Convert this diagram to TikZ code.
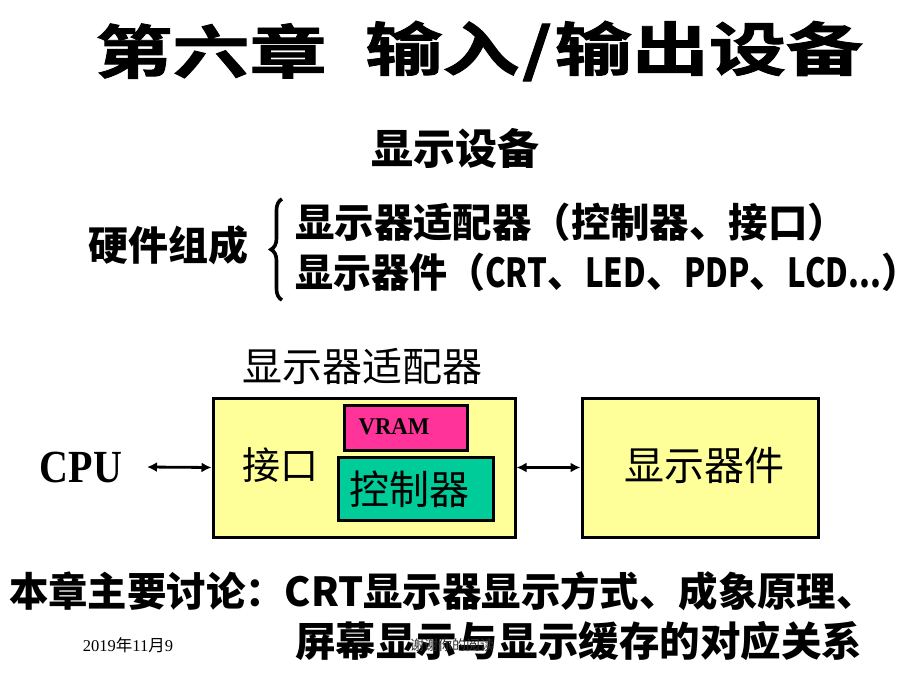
\documentclass[tikz,border=0pt]{standalone}
\usepackage{fontspec}
\setmainfont{Liberation Serif}
\newfontfamily\cjk{Noto Sans CJK SC}
\newfontfamily\cjkheavy{Noto Sans CJK SC}[UprightFont={* Bold},FakeBold=1.5]
\usetikzlibrary{arrows.meta,decorations.pathreplacing}
\definecolor{boxyellow}{RGB}{255,255,153}
\definecolor{boxpink}{RGB}{255,51,153}
\definecolor{boxgreen}{RGB}{0,204,153}
\newcommand{\nar}[1]{\scalebox{0.82}[1]{#1}}
\begin{document}
\begin{tikzpicture}[x=1pt,y=-1pt,
  box/.style={draw=black,line width=3pt,fill=#1,inner sep=0pt},
  heavy/.style={font=\cjkheavy\fontsize{#1}{#1}\selectfont,inner sep=0pt,xscale=1.33},
  bold/.style={font=\cjk\bfseries\fontsize{#1}{#1}\selectfont,inner sep=0pt},
  reg/.style={font=\cjk\fontsize{#1}{#1}\selectfont,inner sep=0pt},
  dbl/.style={{Latex[length=10pt,width=10pt]}-{Latex[length=10pt,width=10pt]},line width=2.8pt}]
\useasboundingbox[fill=white] (0,0) rectangle (920,690);
% title
\node[heavy=58,anchor=west] (t1) at (95,51) {第六章};
\node[heavy=58,anchor=west] (t2) at (365,51) {输入\hspace{2pt}/\hspace{2pt}输出设备};
\node[bold=42] (sub) at (455,148) {显示设备};
\node[bold=40] (hw) at (168,245) {硬件组成};
\node[bold=40,anchor=west,xscale=0.985] (l1) at (295,222) {显示器适配器（控制器、接口）};
\node[bold=40,anchor=west,xscale=0.95] (l2) at (295,272) {显示器件（\nar{CRT}、\nar{LED}、\nar{PDP}、\nar{LCD...}）};
\draw[line width=3.6pt,decorate,decoration={brace,amplitude=11pt}] (282,300) coordinate (bb) -- (282,199) coordinate (bt);
% diagram
\node[reg=40] (adlab) at (362,366) {显示器适配器};
\node[box=boxyellow,minimum width=302pt,minimum height=139pt] (adapter) at (364,467.5) {};
\node[box=boxyellow,minimum width=236pt,minimum height=139pt] (disp) at (700,467.5) {};
\node[box=boxpink,minimum width=123pt,minimum height=45pt] (vram) at (405.5,427.5) {};
\node[font=\bfseries\fontsize{24}{24}\selectfont,inner sep=0pt,xscale=0.95] (vramt) at (394,427) {VRAM};
\node[box=boxgreen,minimum width=155pt,minimum height=63pt] (ctrl) at (415.5,489) {};
\node[reg=40] (ctrlt) at (409,489) {控制器};
\node[reg=38] (jk) at (280,465) {接口};
\node[reg=40] (dispt) at (704,465) {显示器件};
\node[font=\bfseries\fontsize{40}{40}\selectfont,inner sep=0pt,yscale=1.15] (cpu) at (81,467) {CPU};
\coordinate (ca) at (147,467);
\draw[dbl] (ca) -- (adapter.west);
\draw[dbl] (adapter.east) -- (disp.west);
% bottom
\node[bold=40,anchor=west,xscale=0.985] (m1) at (9,591) {本章主要讨论：CRT显示器显示方式、成象原理、};
\node[bold=40.5,anchor=west] (m2) at (295,641) {屏幕显示与显示缓存的对应关系};
\node[font=\fontsize{16.5}{16.5}\selectfont,inner sep=0pt] (date) at (128,645) {2019{\cjk 年}11{\cjk 月}9};
\node[reg=14,text=black!80] (foot) at (452,645) {谢谢你的阅读};
\end{tikzpicture}
\end{document}
